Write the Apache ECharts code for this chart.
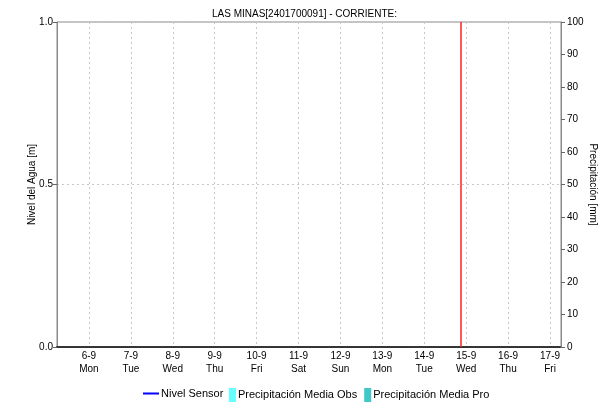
<!DOCTYPE html>
<html>
<head>
<meta charset="utf-8">
<script src="https://cdn.jsdelivr.net/npm/echarts@6/dist/echarts.min.js"></script>
<style>
  html, body { margin: 0; padding: 0; background: #fff; }
  #chart { width: 609px; height: 402px; }
</style>
</head>
<body>
<div id="chart"></div>
<script>
// rango de tiempo del eje x
var xStart = new Date(2021, 8, 5, 6, 0).getTime();
var xEnd = new Date(2021, 8, 17, 6, 0).getTime();
var weekDays = ['Sun', 'Mon', 'Tue', 'Wed', 'Thu', 'Fri', 'Sat'];

// series (sin datos en el periodo)
var nivelSensor = [];
var precipObs = [];
var precipPro = [];

// linea roja = momento actual
var ahora = new Date(2021, 8, 14, 21, 0).getTime();

var precipMax = 100;

var font = 'Liberation Sans, Arial, sans-serif';
var myChart = echarts.init(document.getElementById('chart'));

var option = {
  animation: false,
  title: {
    text: 'LAS MINAS[2401700091] - CORRIENTE:',
    left: 'center',
    top: 4,
    textStyle: { fontSize: 10, fontWeight: 'normal', color: '#000', fontFamily: font }
  },
  legend: [{
    data: ['Nivel Sensor'],
    left: 138,
    top: 383,
    itemWidth: 16,
    itemHeight: 2,
    itemGap: 4,
    icon: 'rect',
    textStyle: { fontSize: 11, color: '#000', fontFamily: font, padding: [0, 0, 0, -3] }
  }, {
    data: ['Precipitación Media Obs', 'Precipitación Media Pro'],
    left: 224,
    top: 383,
    itemWidth: 7,
    itemHeight: 14,
    itemGap: 7,
    icon: 'rect',
    textStyle: { fontSize: 11, color: '#000', fontFamily: font, padding: [0, 0, 0, -3] }
  }],
  grid: {
    left: 57,
    right: 48,
    top: 22,
    bottom: 55,
    show: true,
    borderColor: '#888',
    borderWidth: 1
  },
  xAxis: {
    type: 'time',
    min: xStart,
    max: xEnd,
    splitNumber: 12,
    minInterval: 86400000,
    maxInterval: 86400000,
    axisLine: { show: true, lineStyle: { color: '#333', type: [1, 1], width: 2 } },
    axisTick: { show: false },
    axisLabel: {
      color: '#000',
      fontSize: 10,
      fontFamily: font,
      lineHeight: 13,
      margin: 3,
      showMinLabel: false,
      showMaxLabel: false,
      hideOverlap: false,
      formatter: function (val) {
        var d = new Date(val);
        return d.getDate() + '-' + (d.getMonth() + 1) + '\n' + weekDays[d.getDay()];
      }
    },
    splitLine: { show: true, lineStyle: { color: '#c8c8c8', type: [2, 3] } }
  },
  yAxis: [{
    type: 'value',
    min: 0,
    max: 1,
    interval: 0.5,
    name: 'Nivel del Agua [m]',
    nameLocation: 'middle',
    nameRotate: 90,
    nameGap: 20,
    nameMoveOverlap: false,
    nameTextStyle: { fontSize: 10, color: '#000', fontFamily: font },
    axisLine: { show: true, lineStyle: { color: '#888' } },
    axisTick: { show: true, length: 4, lineStyle: { color: '#666' } },
    axisLabel: {
      color: '#000', fontSize: 10, fontFamily: font, margin: 4,
      formatter: function (v) { return v.toFixed(1); }
    },
    splitLine: { show: true, lineStyle: { color: '#c8c8c8', type: [2, 3] } }
  }, {
    type: 'value',
    min: 0,
    max: precipMax,
    interval: 10,
    position: 'right',
    name: 'Precipitación [mm]',
    nameLocation: 'middle',
    nameRotate: -90,
    nameGap: 27,
    nameMoveOverlap: false,
    nameTextStyle: { fontSize: 10, color: '#000', fontFamily: font },
    axisLine: { show: true, lineStyle: { color: '#888' } },
    axisTick: { show: true, length: 4, lineStyle: { color: '#666' } },
    axisLabel: { color: '#000', fontSize: 10, fontFamily: font, margin: 6 },
    splitLine: { show: false }
  }],
  series: [{
    name: 'Nivel Sensor',
    type: 'line',
    yAxisIndex: 0,
    showSymbol: false,
    color: '#0000ff',
    data: nivelSensor,
    markLine: {
      silent: true,
      symbol: 'none',
      label: { show: false },
      lineStyle: { color: '#ff2020', type: 'solid', width: 1.5 },
      data: [{ xAxis: ahora }]
    }
  }, {
    name: 'Precipitación Media Obs',
    type: 'bar',
    yAxisIndex: 1,
    barWidth: 1,
    barGap: '-100%',
    color: '#66ffff',
    data: precipObs
  }, {
    name: 'Precipitación Media Pro',
    type: 'bar',
    yAxisIndex: 1,
    barWidth: 1,
    color: '#40c8c8',
    data: precipPro
  }]
};

myChart.setOption(option);
</script>
</body>
</html>
